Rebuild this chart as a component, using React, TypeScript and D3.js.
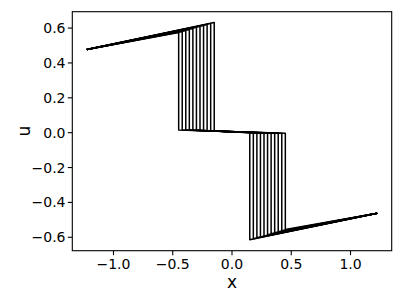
import React, { useEffect, useRef } from 'react';
import * as d3 from 'd3';

// snapshots of u(x): one entry per curve
const xStart = -1.225;
const xEnd = 1.225;
const uStart = 0.477;
const uEnd = -0.462;
const leftShock = [-0.45, -0.42, -0.39, -0.36, -0.33, -0.3, -0.27, -0.24, -0.21, -0.18, -0.15];
const rightShock = [0.45, 0.42, 0.39, 0.36, 0.33, 0.3, 0.27, 0.24, 0.21, 0.18, 0.15];
const peakU = [0.574, 0.58, 0.586, 0.592, 0.598, 0.604, 0.61, 0.616, 0.621, 0.627, 0.632];
const troughU = [-0.556, -0.562, -0.568, -0.574, -0.58, -0.586, -0.592, -0.598, -0.603, -0.609, -0.614];
const midLeftU = [0.016, 0.016, 0.015, 0.015, 0.014, 0.014, 0.013, 0.012, 0.011, 0.01, 0.009];
const midRightU = [-0.003, -0.003, -0.003, -0.003, -0.003, -0.002, -0.002, -0.002, -0.001, -0.001, -0.001];

const xTicks = [-1.0, -0.5, 0.0, 0.5, 1.0];
const yTicks = [-0.6, -0.4, -0.2, 0.0, 0.2, 0.4, 0.6];

const fmt = (v: number) => v.toFixed(1).replace('-', '\u2212');

const App = () => {
  const svgRef = useRef<SVGSVGElement>(null);

  useEffect(() => {
    const width = 403;
    const height = 302;
    const left = 72.3;
    const right = 391.7;
    const top = 11.7;
    const bottom = 250.7;
    const font = 'DejaVu Sans, sans-serif';

    const x = d3.scaleLinear().domain([-1.3475, 1.3475]).range([left, right]);
    const y = d3.scaleLinear().domain([-0.677, 0.694]).range([bottom, top]);

    const svg = d3.select(svgRef.current)
      .attr('width', width)
      .attr('height', height)
      .attr('viewBox', [0, 0, width, height].join(' '));
    svg.selectAll('*').remove();

    svg.append('rect').attr('width', width).attr('height', height).attr('fill', '#fff');

    const curves = leftShock.map((s, i) => [
      [xStart, uStart],
      [s, peakU[i]],
      [s, midLeftU[i]],
      [rightShock[i], midRightU[i]],
      [rightShock[i], troughU[i]],
      [xEnd, uEnd],
    ] as [number, number][]);

    const line = d3.line<[number, number]>().x(d => x(d[0])).y(d => y(d[1]));

    svg.append('g')
      .selectAll('path')
      .data(curves)
      .join('path')
      .attr('d', d => line(d))
      .attr('fill', 'none')
      .attr('stroke', '#000')
      .attr('stroke-width', 1.5)
      .attr('stroke-linejoin', 'round');

    // frame
    svg.append('rect')
      .attr('x', left).attr('y', top)
      .attr('width', right - left).attr('height', bottom - top)
      .attr('fill', 'none').attr('stroke', '#000').attr('stroke-width', 1.1);

    const xg = svg.append('g');
    xTicks.forEach(t => {
      xg.append('line').attr('x1', x(t)).attr('x2', x(t)).attr('y1', bottom).attr('y2', bottom + 4.5)
        .attr('stroke', '#000').attr('stroke-width', 1.1);
      xg.append('text').attr('x', x(t)).attr('y', 268.5).attr('text-anchor', 'middle')
        .attr('font-family', font).attr('font-size', 14).text(fmt(t));
    });

    const yg = svg.append('g');
    yTicks.forEach(t => {
      yg.append('line').attr('x1', left - 4.5).attr('x2', left).attr('y1', y(t)).attr('y2', y(t))
        .attr('stroke', '#000').attr('stroke-width', 1.1);
      yg.append('text').attr('x', 65.5).attr('y', y(t)).attr('dy', '0.36em').attr('text-anchor', 'end')
        .attr('font-family', font).attr('font-size', 14).text(fmt(t));
    });

    svg.append('text').attr('x', (left + right) / 2).attr('y', 288).attr('text-anchor', 'middle')
      .attr('font-family', font).attr('font-size', 17).text('x');
    svg.append('text').attr('transform', `translate(30,${(top + bottom) / 2}) rotate(-90)`)
      .attr('text-anchor', 'middle')
      .attr('font-family', font).attr('font-size', 17).text('u');
  }, []);

  return <svg ref={svgRef} style={{ position: 'absolute', left: 0, top: 0 }}></svg>;
};

export default App;
